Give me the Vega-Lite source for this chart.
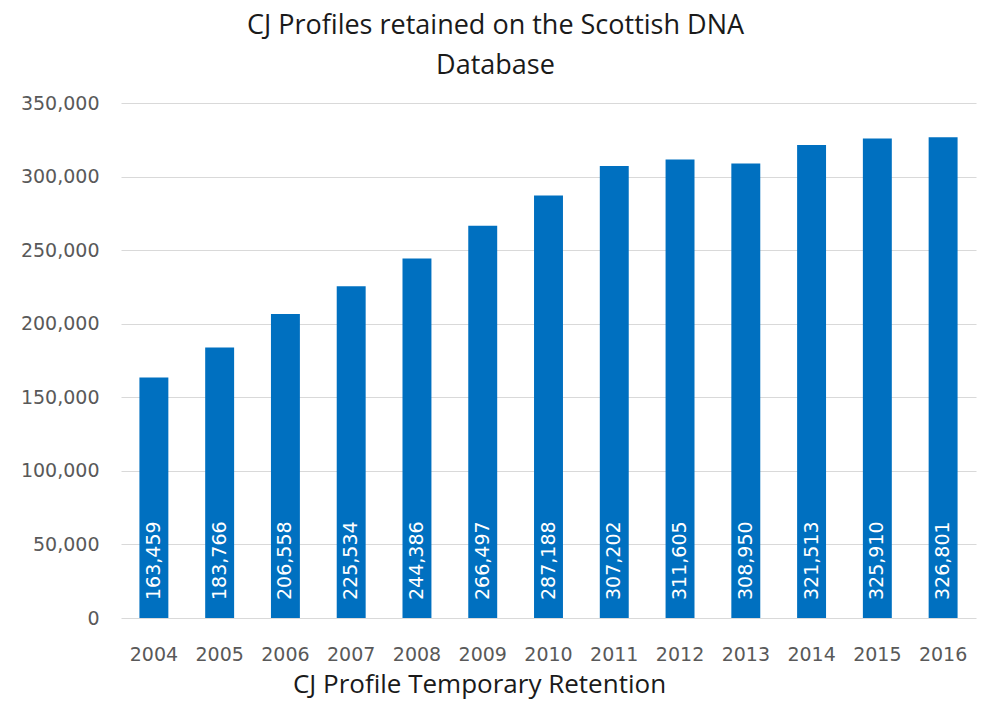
{
  "$schema": "https://vega.github.io/schema/vega-lite/v6.json",
  "autosize": {"type": "none"},
  "padding": {"left": 121, "top": 103, "right": 6, "bottom": 83},
  "width": 855,
  "height": 515,
  "background": "white",
  "config": {"view": {"stroke": null}},
  "title": {
    "text": ["CJ Profiles retained on the Scottish DNA", "Database"],
    "font": "Open Sans",
    "fontSize": 27,
    "fontWeight": "normal",
    "color": "#1a1a1a",
    "lineHeight": 40,
    "anchor": "middle",
    "dx": -53,
    "offset": 14
  },
  "data": {
    "values": [
      {"year": "2004", "profiles": 163459},
      {"year": "2005", "profiles": 183766},
      {"year": "2006", "profiles": 206558},
      {"year": "2007", "profiles": 225534},
      {"year": "2008", "profiles": 244386},
      {"year": "2009", "profiles": 266497},
      {"year": "2010", "profiles": 287188},
      {"year": "2011", "profiles": 307202},
      {"year": "2012", "profiles": 311605},
      {"year": "2013", "profiles": 308950},
      {"year": "2014", "profiles": 321513},
      {"year": "2015", "profiles": 325910},
      {"year": "2016", "profiles": 326801}
    ]
  },
  "encoding": {
    "x": {
      "field": "year",
      "type": "ordinal",
      "scale": {"paddingInner": 0.56, "paddingOuter": 0.28},
      "axis": {
        "title": "CJ Profile Temporary Retention",
        "titleFont": "Open Sans",
        "titleFontSize": 26,
        "titleFontWeight": "normal",
        "titleColor": "#1a1a1a",
        "titleX": 358,
        "titleY": 74,
        "titleBaseline": "alphabetic",
        "labelAngle": 0,
        "labelFont": "DejaVu Sans",
        "labelFontSize": 19,
        "labelColor": "#595959",
        "labelPadding": 27,
        "ticks": false,
        "domain": false
      }
    }
  },
  "layer": [
    {
      "mark": {"type": "bar", "color": "#0070C0"},
      "encoding": {
        "y": {
          "field": "profiles",
          "type": "quantitative",
          "scale": {"domain": [0, 350000], "nice": false},
          "axis": {
            "title": null,
            "values": [0, 50000, 100000, 150000, 200000, 250000, 300000, 350000],
            "format": ",d",
            "labelFont": "DejaVu Sans",
            "labelFontSize": 19,
            "labelColor": "#595959",
            "labelPadding": 22,
            "ticks": false,
            "domain": false,
            "gridColor": "#D9D9D9",
            "gridWidth": 1.2
          }
        }
      }
    },
    {
      "mark": {
        "type": "text",
        "angle": 270,
        "align": "left",
        "baseline": "middle",
        "color": "white",
        "font": "DejaVu Sans",
        "fontSize": 19,
        "yOffset": -18
      },
      "encoding": {
        "y": {"datum": 0, "type": "quantitative"},
        "text": {"field": "profiles", "type": "quantitative", "format": ",d"}
      }
    }
  ]
}
